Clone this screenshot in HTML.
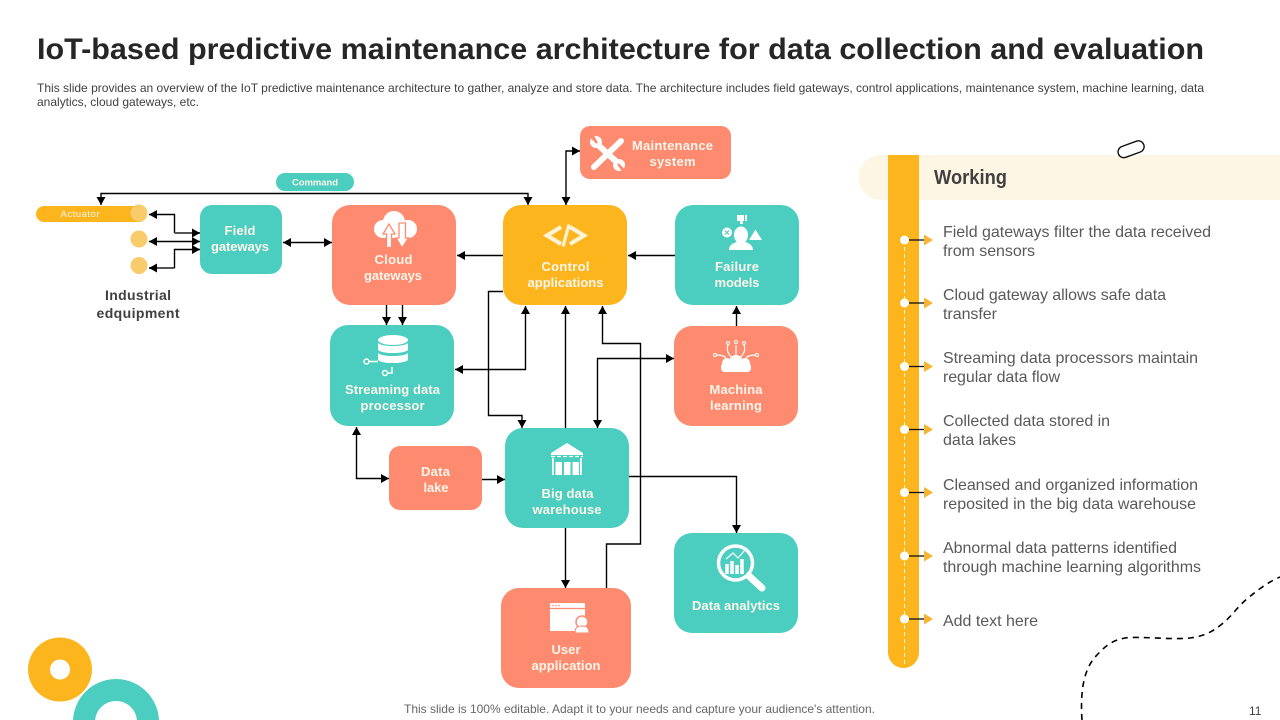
<!DOCTYPE html>
<html><head><meta charset="utf-8"><style>
html,body{margin:0;padding:0;background:#fff;width:1280px;height:720px;overflow:hidden}
svg{display:block;font-family:"Liberation Sans",sans-serif}
.n text,text.n{font-size:13px;font-weight:bold;fill:#fdf6ea;text-anchor:middle}
.c{fill:none;stroke:#000;stroke-width:1.4}
.b{font-size:16px;fill:#595959}
</style></head><body>
<svg width="1280" height="720" viewBox="0 0 1280 720" xmlns="http://www.w3.org/2000/svg">
<defs>
<marker id="a" markerUnits="userSpaceOnUse" markerWidth="9" markerHeight="10" refX="8" refY="5" orient="auto-start-reverse"><path d="M0 .5L8 5L0 9.5Z" fill="#000"/></marker>
</defs>
<text x="37" y="59" font-size="30" font-weight="bold" fill="#262626" textLength="1167" lengthAdjust="spacingAndGlyphs">IoT-based predictive maintenance architecture for data collection and evaluation</text>
<text x="37" y="92" font-size="12" fill="#404040" textLength="1167" lengthAdjust="spacing">This slide provides an overview of the IoT predictive maintenance architecture to gather, analyze and store data. The architecture includes field gateways, control applications, maintenance system, machine learning, data</text>
<text x="37" y="106" font-size="12" fill="#404040" textLength="162" lengthAdjust="spacing">analytics, cloud gateways, etc.</text>

<!-- decorative -->
<circle cx="60" cy="669.5" r="32" fill="#fdb51e"/><circle cx="60" cy="669.5" r="10" fill="#fff"/>
<circle cx="116" cy="722" r="32" fill="none" stroke="#4bcdc0" stroke-width="22"/>
<path d="M1082 720C1080 690 1084 668 1097 655C1107 644 1114 640 1125 638C1140 636 1170 640 1190 638C1205 636 1212 632 1222 624C1232 616 1238 606 1248 598C1258 590 1268 582 1280 577" fill="none" stroke="#000" stroke-width="1.600" stroke-dasharray="6 5"/>

<!-- right panel -->
<path d="M1280 155H881a22.500 22.500 0 0 0 0 45H1280Z" fill="#fef6e4"/>
<rect x="1117.500" y="143.500" width="27" height="11.500" rx="5.750" transform="rotate(-20 1131 149)" fill="#fff" stroke="#111" stroke-width="1.400"/>
<path d="M888 155h31v497.500a15.500 15.500 0 0 1-31 0Z" fill="#fdb51e"/>
<line x1="904.500" y1="240" x2="904.500" y2="666" stroke="#fff" stroke-dasharray="4 3" stroke-width="1" opacity=".85"/>
<g id="ticks">
<g><circle cx="904.500" cy="240" r="4.500" fill="#fff"/><path d="M909 240H924" stroke="#111" stroke-width="1.300"/><path d="M924 234.500L933 240L924 245.500Z" fill="#f5b431"/></g>
<g transform="translate(0 63)"><circle cx="904.500" cy="240" r="4.500" fill="#fff"/><path d="M909 240H924" stroke="#111" stroke-width="1.300"/><path d="M924 234.500L933 240L924 245.500Z" fill="#f5b431"/></g>
<g transform="translate(0 126.500)"><circle cx="904.500" cy="240" r="4.500" fill="#fff"/><path d="M909 240H924" stroke="#111" stroke-width="1.300"/><path d="M924 234.500L933 240L924 245.500Z" fill="#f5b431"/></g>
<g transform="translate(0 189.500)"><circle cx="904.500" cy="240" r="4.500" fill="#fff"/><path d="M909 240H924" stroke="#111" stroke-width="1.300"/><path d="M924 234.500L933 240L924 245.500Z" fill="#f5b431"/></g>
<g transform="translate(0 252.500)"><circle cx="904.500" cy="240" r="4.500" fill="#fff"/><path d="M909 240H924" stroke="#111" stroke-width="1.300"/><path d="M924 234.500L933 240L924 245.500Z" fill="#f5b431"/></g>
<g transform="translate(0 316)"><circle cx="904.500" cy="240" r="4.500" fill="#fff"/><path d="M909 240H924" stroke="#111" stroke-width="1.300"/><path d="M924 234.500L933 240L924 245.500Z" fill="#f5b431"/></g>
<g transform="translate(0 379)"><circle cx="904.500" cy="240" r="4.500" fill="#fff"/><path d="M909 240H924" stroke="#111" stroke-width="1.300"/><path d="M924 234.500L933 240L924 245.500Z" fill="#f5b431"/></g>
</g>
<text x="934" y="184" font-size="20" font-weight="bold" fill="#404040" textLength="73" lengthAdjust="spacingAndGlyphs">Working</text>
<text class="b" x="943" y="237" textLength="268">Field gateways filter the data received</text>
<text class="b" x="943" y="256" textLength="92">from sensors</text>
<text class="b" x="943" y="300" textLength="223">Cloud gateway allows safe data</text>
<text class="b" x="943" y="319" textLength="54">transfer</text>
<text class="b" x="943" y="363" textLength="255">Streaming data processors maintain</text>
<text class="b" x="943" y="382" textLength="117">regular data flow</text>
<text class="b" x="943" y="426" textLength="167">Collected data stored in</text>
<text class="b" x="943" y="445" textLength="73">data lakes</text>
<text class="b" x="943" y="490" textLength="255">Cleansed and organized information</text>
<text class="b" x="943" y="509" textLength="253">reposited in the big data warehouse</text>
<text class="b" x="943" y="553" textLength="234">Abnormal data patterns identified</text>
<text class="b" x="943" y="572" textLength="258">through machine learning algorithms</text>
<text class="b" x="943" y="626" textLength="95">Add text here</text>

<!-- connectors -->
<g class="c">
<path class="c" d="M528 205V193.500H101V205" marker-start="url(#a)" marker-end="url(#a)"/>
<path class="c" d="M566 205V151H580" marker-start="url(#a)" marker-end="url(#a)"/>
<path class="c" d="M503 255.500H457" marker-end="url(#a)"/>
<path class="c" d="M675 255.500H628" marker-end="url(#a)"/>
<path class="c" d="M283 242.500H332" marker-start="url(#a)" marker-end="url(#a)"/>
<path class="c" d="M149 214.500H174.500V233" marker-start="url(#a)"/>
<path d="M174.500 233H200" fill="none" stroke="#555" stroke-width="2" marker-end="url(#a)"/>
<path class="c" d="M149 241.500H200" marker-start="url(#a)" marker-end="url(#a)"/>
<path d="M149 268H174.500" fill="none" stroke="#555" stroke-width="2" marker-start="url(#a)"/>
<path class="c" d="M174.500 268V249.500H200" marker-end="url(#a)"/>
<path class="c" d="M386.500 305V325" marker-end="url(#a)"/>
<path class="c" d="M402.500 305V325" marker-end="url(#a)"/>
<path class="c" d="M503 291.500H488.500V415.500H522V428" marker-end="url(#a)"/>
<path class="c" d="M455 369.500H525.500V306" marker-start="url(#a)" marker-end="url(#a)"/>
<path class="c" d="M565.500 428V306" marker-end="url(#a)"/>
<path class="c" d="M606.500 588V544H640.500V343.500H602.500V306" marker-end="url(#a)"/>
<path class="c" d="M597.500 428V358.500H674" marker-start="url(#a)" marker-end="url(#a)"/>
<path class="c" d="M736.500 326V306" marker-end="url(#a)"/>
<path class="c" d="M356.500 427V478.500H389" marker-start="url(#a)" marker-end="url(#a)"/>
<path class="c" d="M482 479.500H505" marker-end="url(#a)"/>
<path class="c" d="M629 476.500H736.500V533" marker-end="url(#a)"/>
<path class="c" d="M565.500 528V588" marker-end="url(#a)"/>
</g>

<!-- left equipment -->
<rect x="36" y="206" width="111" height="16" rx="8" fill="#fdb51e"/>
<circle cx="139" cy="213" r="8.500" fill="#f8cb6b"/><circle cx="139" cy="239" r="8.500" fill="#f8cb6b"/><circle cx="139" cy="265.500" r="8.500" fill="#f8cb6b"/>
<text x="80" y="217" font-size="9.500" fill="#fdf6ea" text-anchor="middle" textLength="39">Actuator</text>
<rect x="276" y="173" width="78" height="18" rx="9" fill="#4bcdc0"/>
<text x="315" y="185.500" font-size="9.500" font-weight="bold" fill="#fdf6ea" text-anchor="middle" textLength="46">Command</text>
<text x="138" y="300" font-size="14" font-weight="bold" fill="#404040" text-anchor="middle" textLength="66">Industrial</text>
<text x="138" y="318" font-size="14" font-weight="bold" fill="#404040" text-anchor="middle" textLength="83">edquipment</text>

<!-- nodes -->
<rect x="200" y="205" width="82" height="69" rx="12" fill="#4bcdc0"/>
<rect x="332" y="205" width="124" height="100" rx="18" fill="#fe8a70"/>
<rect x="503" y="205" width="124" height="100" rx="18" fill="#fdb51e"/>
<rect x="675" y="205" width="124" height="100" rx="18" fill="#4bcdc0"/>
<rect x="580" y="126" width="151" height="53" rx="10" fill="#fe8a70"/>
<rect x="330" y="325" width="124" height="101" rx="18" fill="#4bcdc0"/>
<rect x="674" y="326" width="124" height="100" rx="18" fill="#fe8a70"/>
<rect x="505" y="428" width="124" height="100" rx="18" fill="#4bcdc0"/>
<rect x="389" y="446" width="93" height="64" rx="11" fill="#fe8a70"/>
<rect x="674" y="533" width="124" height="100" rx="18" fill="#4bcdc0"/>
<rect x="501" y="588" width="130" height="100" rx="18" fill="#fe8a70"/>

<g class="n">
<text x="240" y="235" textLength="31">Field</text>
<text x="240" y="251" textLength="58">gateways</text>
<text x="393.500" y="264" textLength="38">Cloud</text>
<text x="393" y="280" textLength="58">gateways</text>
<text x="565.500" y="271" textLength="48">Control</text>
<text x="565.500" y="287" textLength="76">applications</text>
<text x="737" y="271" textLength="44">Failure</text>
<text x="737" y="287" textLength="45">models</text>
<text x="672.500" y="150" textLength="81">Maintenance</text>
<text x="672.500" y="166" textLength="46">system</text>
<text x="392.500" y="394" textLength="95">Streaming data</text>
<text x="392.500" y="410" textLength="64">processor</text>
<text x="736" y="394" textLength="53">Machina</text>
<text x="736" y="410" textLength="52">learning</text>
<text x="567.500" y="498" textLength="52">Big data</text>
<text x="567" y="514" textLength="69">warehouse</text>
<text x="435.500" y="476" textLength="29">Data</text>
<text x="436" y="492" textLength="25">lake</text>
<text x="736" y="610" textLength="88">Data analytics</text>
<text x="566" y="654" textLength="29">User</text>
<text x="566" y="670" textLength="69">application</text>
</g>

<!-- icons -->
<!-- tools -->
<g stroke="#fff" fill="none" stroke-linecap="round">
<path d="M597 144L620 165" stroke-width="6"/><path d="M594 167L621 141" stroke-width="6"/>
</g>
<circle cx="596" cy="142" r="6" fill="#fff"/><circle cx="619" cy="165" r="6" fill="#fff"/>
<path d="M590 136L597 143L593 136Z M625 171L618 164L623 171Z" fill="#fe8a70" stroke="#fe8a70" stroke-width="2"/>
<!-- cloud -->
<g fill="#fff">
<circle cx="394" cy="222" r="11"/><circle cx="383" cy="229" r="9"/><circle cx="408" cy="229" r="9"/><rect x="383" y="226" width="25" height="12"/>
<path d="M386.500 247.500V234h-3.500l6-10 6 10h-3.500v13.500Z" stroke="#fe8a70" stroke-width="1.300"/>
<path d="M399 223h6.500v15h3l-6.500 10-6-10h3Z" stroke="#fe8a70" stroke-width="1.300"/>
</g>
<!-- code -->
<g fill="none" stroke="#fff3d6" stroke-width="4.200">
<path d="M561 227L547 235.500L561 244"/><path d="M570 227L584 235.500L570 244"/>
</g>
<path d="M569 224.500L563 246.500" stroke="#fff3d6" stroke-width="3.200"/>
<!-- failure -->
<g fill="#fff">
<ellipse cx="741" cy="235" rx="7" ry="8.500"/><path d="M729 250c0-6 6-7 9-9h6c3 2 9 3 9 9Z"/>
<path d="M749 240l6.500-10.500 6.500 10.500Z"/><circle cx="727" cy="232.500" r="5"/>
<rect x="737" y="215" width="7" height="6"/><rect x="740" y="220" width="3" height="4"/><rect x="745" y="215" width="2" height="6"/>
</g>
<path d="M725 230.500l4 4M729 230.500l-4 4" stroke="#4bcdc0" stroke-width="1.100"/>
<!-- database -->
<g>
<ellipse cx="393" cy="340" rx="15" ry="5" fill="#fff"/>
<path d="M378 343c4 4 26 4 30 0v7c-4 4-26 4-30 0Z" fill="#fff"/>
<path d="M378 353c4 4 26 4 30 0v7c-4 4-26 4-30 0Z" fill="#fff"/>
<path d="M369 361.500H378M388 373h4v-6" stroke="#fff" stroke-width="1.500" fill="none"/>
<circle cx="366.500" cy="361.500" r="2.500" fill="none" stroke="#fff" stroke-width="1.500"/><circle cx="385" cy="373" r="2.500" fill="none" stroke="#fff" stroke-width="1.500"/>
</g>
<!-- machine learning -->
<g fill="#fff">
<circle cx="727" cy="367" r="5"/><circle cx="746" cy="367" r="5"/><circle cx="736" cy="362" r="7"/><circle cx="727" cy="363" r="5"/><circle cx="745" cy="363" r="5"/><rect x="721" y="363" width="30" height="9" rx="3.500"/>
</g>
<path d="M731 357c-2-3-5-6-3-12M741 357c2-3 5-6 3-12M736 356V345M726 358c-2-2-4-3-10-3M746 358c2-2 4-3 10-3" fill="none" stroke="#fff" stroke-width="1.200"/>
<g fill="none" stroke="#fff" stroke-width="1"><circle cx="728" cy="343" r="1.500"/><circle cx="736" cy="342" r="1.500"/><circle cx="744" cy="343" r="1.500"/><circle cx="715" cy="355" r="1.500"/><circle cx="757" cy="355" r="1.500"/></g>
<!-- warehouse -->
<g fill="#fff">
<path d="M551 453L567 443L583 453V455H551Z"/><rect x="552" y="458" width="1.800" height="17"/><rect x="580" y="458" width="1.800" height="17"/>
<path d="M551 456.500H583" stroke="#fff" stroke-width="1.200" stroke-dasharray="4 2"/>
<rect x="555.500" y="462" width="6.500" height="13"/><rect x="564" y="462" width="6.500" height="13"/><rect x="572.500" y="462" width="6.500" height="13"/>
</g>
<!-- analytics -->
<g>
<circle cx="735.500" cy="563" r="17" fill="none" stroke="#fff" stroke-width="3.500"/>
<path d="M749 576L762 588" stroke="#fff" stroke-width="7" stroke-linecap="round"/>
<path d="M727 574v-10M732 574v-13M737 574v-9M742 574v-15" stroke="#fff" stroke-width="3.500"/>
<path d="M726 559L733 553L738 558L745 550" stroke="#fff" stroke-width="1.200" fill="none"/>
</g>
<!-- user app -->
<g>
<rect x="550" y="603" width="35" height="28" rx="1" fill="#fff"/>
<path d="M550 608.500H585" stroke="#fe8a70" stroke-width="1.200"/>
<circle cx="553" cy="605.500" r=".8" fill="#fe8a70"/><circle cx="556" cy="605.500" r=".8" fill="#fe8a70"/><circle cx="559" cy="605.500" r=".8" fill="#fe8a70"/>
<circle cx="582" cy="622" r="6" fill="#fff" stroke="#fe8a70" stroke-width="1.500"/>
<path d="M575 633c0-6 3-7 7-7s7 1 7 7Z" fill="#fff" stroke="#fe8a70" stroke-width="1"/>
</g>

<text x="639.500" y="713" font-size="12" fill="#666" text-anchor="middle" textLength="471">This slide is 100% editable. Adapt it to your needs and capture your audience's attention.</text>
<text x="1249" y="715" font-size="12" fill="#404040">11</text>
</svg>
</body></html>
